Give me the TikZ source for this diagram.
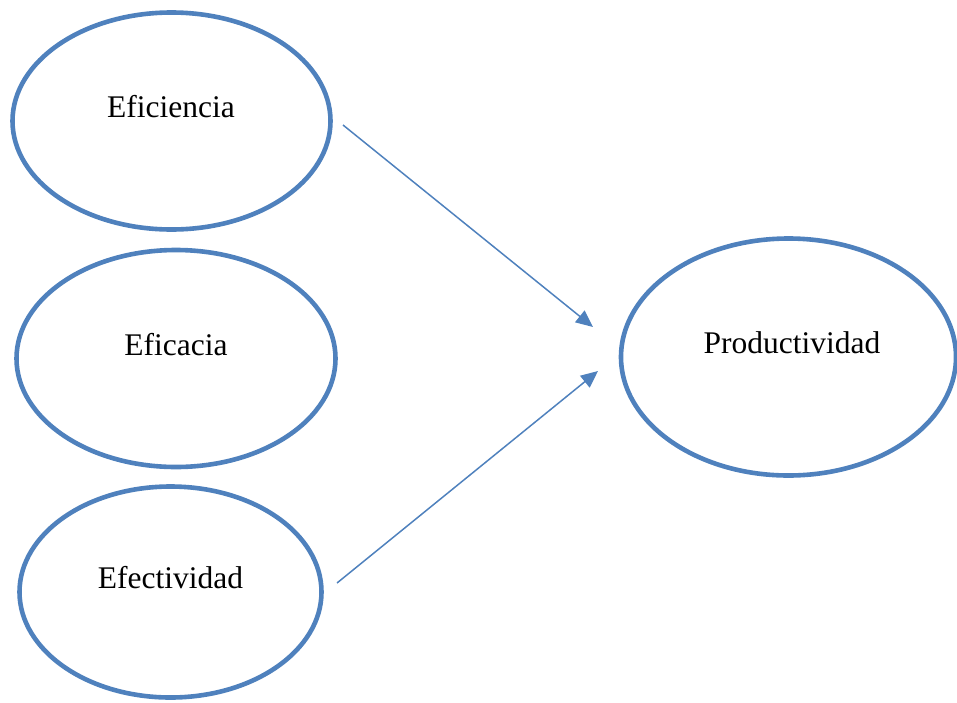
\documentclass[tikz,border=0pt]{standalone}
\usepackage{fontspec}
\setmainfont{Liberation Serif}
\usetikzlibrary{shapes.geometric,arrows.meta}
\definecolor{ofblue}{HTML}{4F81BD}
\begin{document}
\begin{tikzpicture}[x=1pt,y=-1pt,
  oval/.style={ellipse, draw=ofblue, line width=4.6pt, inner sep=0pt, fill=white},
  lbl/.style={anchor=base, inner sep=0pt, font=\fontsize{31.5}{36}\selectfont},
  conn/.style={draw=ofblue, line width=1.5pt, -{Triangle[length=17pt,width=15pt]}}]
\useasboundingbox (0,0) rectangle (957,702);
\node[oval, minimum width=318pt, minimum height=217pt] (e1) at (171.5,121) {};
\node[oval, minimum width=319pt, minimum height=217pt] (e2) at (176,358.5) {};
\node[oval, minimum width=302pt, minimum height=211pt] (e3) at (170.5,592) {};
\node[oval, minimum width=335pt, minimum height=237pt] (p) at (788.5,357) {};
\node[lbl] (t1) at (171,117) {Eficiencia};
\node[lbl] (t2) at (176,355) {Eficacia};
\node[lbl] (t3) at (170.5,588) {Efectividad};
\node[lbl] (tp) at (792,353) {Productividad};
\coordinate (s1) at (343,125);
\coordinate (f1) at (593,327);
\coordinate (s2) at (337,583);
\coordinate (f2) at (598,371);
\draw[conn] (s1) -- (f1);
\draw[conn] (s2) -- (f2);
\end{tikzpicture}
\end{document}
